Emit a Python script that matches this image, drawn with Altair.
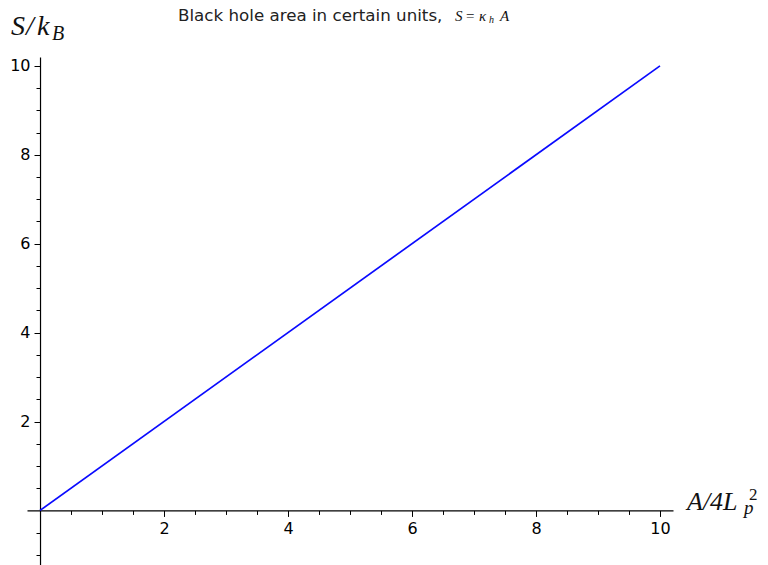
import altair as alt
import pandas as pd

# data
area = [0, 10]
entropy = [0, 10]
x_ticks = [v / 2 for v in range(1, 21)]             # 0.5 .. 10
y_ticks = [v / 2 for v in range(-2, 21) if v != 0]  # -1 .. 10
title_text = "Black hole area in certain units,"

XMIN, XMAX = -0.21, 10.21
YMIN, YMAX = -1.25, 10.2
W, H = 646, 509

x_off = -(0 - XMIN) / (XMAX - XMIN) * W
y_off = -(0 - YMIN) / (YMAX - YMIN) * H

df = pd.DataFrame({"x": area, "y": entropy})

label_expr = "datum.value > 0 && datum.value % 2 == 0 ? format(datum.value, 'd') : ''"
tick_size = {"condition": {"test": "datum.value % 2 == 0", "value": 6}, "value": 4}

common = dict(
    labelExpr=label_expr, title=None, grid=False,
    domainColor="#000", tickColor="#000", domainWidth=1.2,
    tickWidth=1, tickSize=tick_size, labelFontSize=16, labelColor="#000",
    labelFont="DejaVu Sans", labelOverlap=False, labelFlush=False,
)
xaxis = alt.Axis(values=x_ticks, offset=y_off, labelPadding=4, **common)
yaxis = alt.Axis(values=y_ticks, offset=x_off, labelPadding=4, **common)

line = alt.Chart(df).mark_line(color="#0a0aff", strokeWidth=1.7, clip=False).encode(
    x=alt.X("x:Q", scale=alt.Scale(domain=[XMIN, XMAX], nice=False, zero=False), axis=xaxis),
    y=alt.Y("y:Q", scale=alt.Scale(domain=[YMIN, YMAX], nice=False, zero=False), axis=yaxis),
)

one = alt.Data(values=[{}])
OX, OY = 27, 57  # page position of plot origin


def txt(s, px, py, size, font="Liberation Serif", style="italic", align="left", color="#111"):
    return alt.Chart(one).mark_text(
        text=s, font=font, fontSize=size, fontStyle=style, align=align,
        baseline="alphabetic", color=color,
    ).encode(x=alt.value(px - OX), y=alt.value(py - OY))


layers = [
    line,
    txt(title_text, 178, 21, 16.7, font="DejaVu Sans", style="normal", color="#222"),
    txt("S", 455, 21, 15),
    txt("=", 466, 21, 15, style="normal"),
    txt("κ", 479, 21, 15),
    txt("h", 489, 23, 10),
    txt("A", 500, 21, 15),
    # y label S/k_B
    txt("S", 11, 35, 28),
    txt("/", 26, 35, 28),
    txt("k", 37, 35, 28),
    txt("B", 52, 40, 20),
    # x label A/4L_p^2
    txt("A/4L", 687, 510, 26),
    txt("p", 744, 514, 19),
    txt("2", 749, 500, 17, style="normal"),
]

chart = alt.layer(*layers).properties(
    width=W, height=H,
    padding={"left": OX - 8, "top": OY - 8, "right": 768 - 16 - (OX - 8) - W, "bottom": 0},
    autosize="none",
    background="white",
).configure_view(strokeWidth=0, stroke="transparent")

chart.save("out.html", embed_options={"renderer": "svg", "actions": False})
